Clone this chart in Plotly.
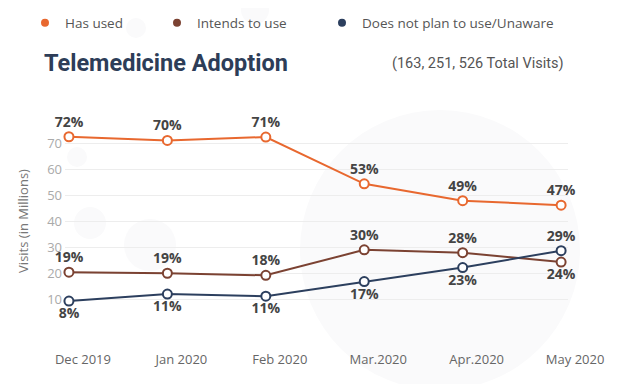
import plotly.graph_objects as go

months = ["Dec 2019", "Jan 2020", "Feb 2020", "Mar.2020", "Apr.2020", "May 2020"]
has_used = [72.4, 71.0, 72.3, 54.3, 47.8, 46.1]
has_used_lbl = ["72%", "70%", "71%", "53%", "49%", "47%"]
intends = [20.3, 19.9, 19.1, 28.9, 27.8, 24.2]
intends_lbl = ["19%", "19%", "18%", "30%", "28%", "24%"]
not_plan = [9.2, 11.9, 11.1, 16.7, 22.1, 28.6]
not_plan_lbl = ["8%", "11%", "11%", "17%", "23%", "29%"]
y_ticks = [10, 20, 30, 40, 50, 60, 70, 80]
y_ticktext = ["10", "20", "30", "40", "50", "60", "70", ""]

ORANGE = "#E8682F"
BROWN = "#7B4232"
NAVY = "#2C3F5E"
LBL = "#444444"

OFF = 8                      # page body margin
W, H = 642 - OFF, 384 - OFF  # figure size
# plot area in page pixels
PL, PR, PT, PB = 65, 568, 117, 325
PW, PH = PR - PL, PB - PT

fig = go.Figure()

# faint watermark circles
for cx, cy, r in [(77, 157, 10), (90, 223, 16), (150, 245, 26), (440, 250, 140), (136, 28, 10), (255, 10, 14)]:
    fig.add_shape(type="circle", xref="paper", yref="paper",
                  x0=(cx - r - PL) / PW, x1=(cx + r - PL) / PW,
                  y0=(PB - cy - r) / PH, y1=(PB - cy + r) / PH,
                  fillcolor="#FAFAFB", line=dict(width=0), layer="below")

series = [
    ("Has used", has_used, has_used_lbl, ORANGE, ["top center"] * 6, "legend", 50),
    ("Intends to use", intends, intends_lbl, BROWN, ["top center"] * 5 + ["bottom center"], "legend2", 182),
    ("Does not plan to use/Unaware", not_plan, not_plan_lbl, NAVY, ["bottom center"] * 5 + ["top center"], "legend3", 347),
]

for name, vals, lbls, col, pos, lg, lx in series:
    fig.add_trace(go.Scatter(
        x=months, y=vals, mode="lines+markers+text", name=name, showlegend=False,
        line=dict(color=col, width=2),
        marker=dict(size=9, color="white", line=dict(color=col, width=2)),
        text=lbls, textposition=pos,
        textfont=dict(family="Open Sans", size=14, color=LBL, weight="bold"),
        cliponaxis=False, hoverinfo="skip",
    ))

legend_common = dict(orientation="h", xref="container", yref="container",
                     xanchor="left", yanchor="middle",
                     font=dict(family="Open Sans", size=13.5, color="#555555"), itemwidth=30,
                     bgcolor="rgba(0,0,0,0)")
legends = {}
for name, vals, lbls, col, pos, lg, lx in series:
    fig.add_trace(go.Scatter(
        x=[None], y=[None], mode="markers", name=name, showlegend=True, legend=lg,
        marker=dict(size=8, color=col),
    ))
    legends[lg] = dict(legend_common, x=(lx - 33) / W, y=1 - 15 / H)

fig.update_layout(
    width=W, height=H, autosize=False,
    margin=dict(l=PL - OFF, r=642 - PR, t=PT - OFF, b=384 - PB, autoexpand=False),
    paper_bgcolor="white", plot_bgcolor="rgba(0,0,0,0)",
    font=dict(family="Open Sans", color="#555555"),
    title=dict(text="<b>Telemedicine Adoption</b>", xref="container", yref="container",
               x=36 / W, y=1 - 55 / H, xanchor="left", yanchor="middle",
               font=dict(family="Roboto", size=23.5, color="#2D3D58")),
    showlegend=True,
    xaxis=dict(range=[-0.04, 5.07], showgrid=False, zeroline=False, showline=False,
               ticks="", tickfont=dict(size=13, color="#666666"), automargin=False,
               ticklabelshift=14, ticklabelstandoff=25),
    yaxis=dict(range=[0, 80], tickvals=y_ticks, ticktext=y_ticktext, automargin=False,
               showgrid=True, gridcolor="#EDEDED", gridwidth=1, zeroline=False,
               showline=False, ticks="", tickfont=dict(size=13, color="#AAAAAA"),
               ticklabelstandoff=2,
               title=dict(text="Visits (in Millions)", font=dict(size=13, color="#777777"), standoff=15)),
    annotations=[dict(text="(163, 251, 526 Total Visits)", xref="paper", yref="paper",
                      x=(566 - PL) / PW, y=(PB - 63) / PH, xanchor="right", yanchor="middle",
                      showarrow=False, font=dict(family="Roboto", size=14.5, color="#555555"))],
    **legends,
)

fig.write_html("out.html")
